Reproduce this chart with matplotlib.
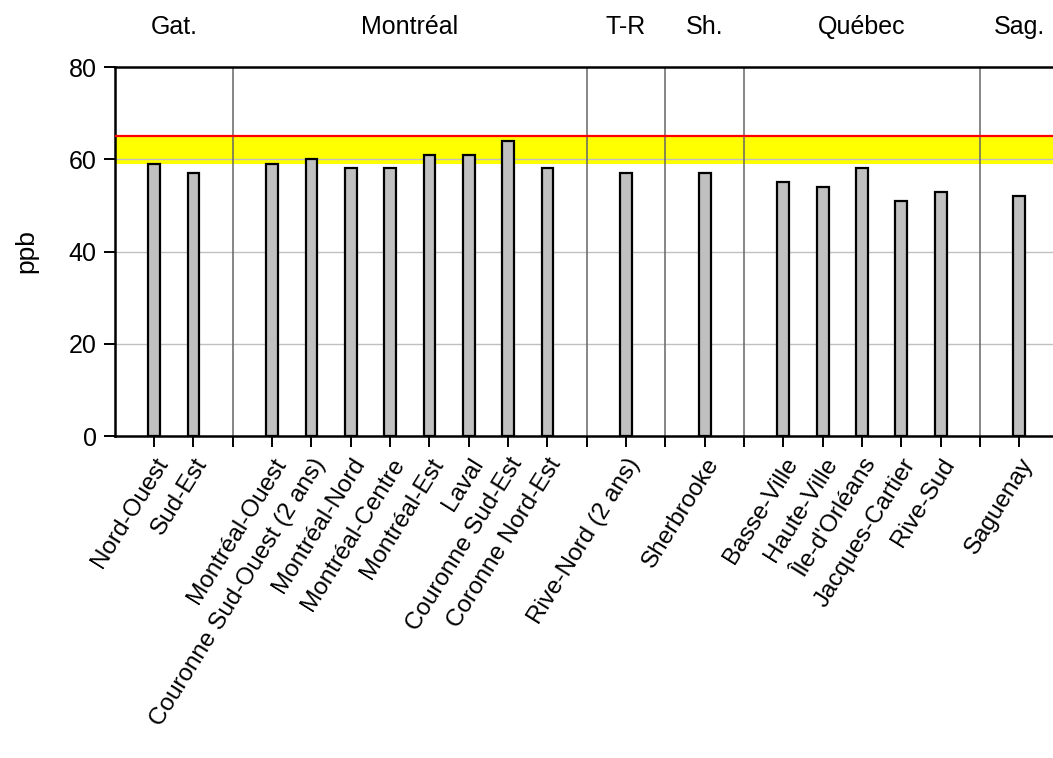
import matplotlib
matplotlib.use("Agg")
import matplotlib.pyplot as plt

plt.rcParams['font.family'] = ['Liberation Sans', 'DejaVu Sans']

# Stations grouped by region; None marks the gap that separates regions
stations = ["Nord-Ouest", "Sud-Est", None,
            "Montréal-Ouest", "Couronne Sud-Ouest (2 ans)", "Montréal-Nord",
            "Montréal-Centre", "Montréal-Est", "Laval", "Couronne Sud-Est",
            "Coronne Nord-Est", None,
            "Rive-Nord (2 ans)", None,
            "Sherbrooke", None,
            "Basse-Ville", "Haute-Ville", "Île-d'Orléans", "Jacques-Cartier",
            "Rive-Sud", None,
            "Saguenay"]
values = [59, 57, None,
          59, 60, 58, 58, 61, 61, 64, 58, None,
          57, None,
          57, None,
          55, 54, 58, 51, 53, None,
          52]

regions = ["Gat.", "Montréal", "T-R", "Sh.", "Québec", "Sag."]

band_low = 59
band_high = 65

fig = plt.figure(figsize=(10.53, 7.58), dpi=100)
ax = fig.add_axes([0.109, 0.4248, 1.0054 - 0.109, 0.9116 - 0.4248])

n = len(stations)
xs = list(range(n))

# Target band and limit line
ax.axhspan(band_low, band_high, color="#ffff00", zorder=0.5, lw=0)
ax.axhline(band_high, color="#ff0000", lw=1.6, zorder=3)

# Horizontal grid
for g in (20, 40, 60):
    ax.axhline(g, color="#c0c0c0", lw=1, zorder=1)

# Bars
bx = [x for x, v in zip(xs, values) if v is not None]
bv = [v for v in values if v is not None]
ax.bar(bx, bv, width=0.3, color="#c0c0c0", edgecolor="black", lw=1.6, zorder=2)

# Region separators and region titles
seps = [x for x, s in zip(xs, stations) if s is None]
for s in seps:
    ax.axvline(s, color="#666666", lw=1.1, zorder=2.5)

bounds = [-1] + seps + [n]
for name, lo, hi in zip(regions, bounds[:-1], bounds[1:]):
    ax.text((lo + hi) / 2, 88.7, name, ha="center", va="center", fontsize=18,
            transform=ax.transData, clip_on=False)

ax.set_xlim(-1, n)
ax.set_ylim(0, 80)
ax.set_yticks([0, 20, 40, 60, 80])
ax.tick_params(axis="y", labelsize=18, length=8, width=1.4, direction="out", pad=5)
ax.set_ylabel("ppb", fontsize=19)
ax.yaxis.set_label_coords(-0.081, 0.5)

ax.set_xticks(xs)
ax.set_xticklabels([s if s else "" for s in stations], rotation=58,
                   ha="right", rotation_mode="anchor", fontsize=17.5)
ax.tick_params(axis="x", length=8, width=1.4, direction="out", pad=5)

for side in ("left", "bottom", "top"):
    ax.spines[side].set_linewidth(1.8)
ax.spines["right"].set_visible(False)

fig.savefig("out.png", dpi=100)
